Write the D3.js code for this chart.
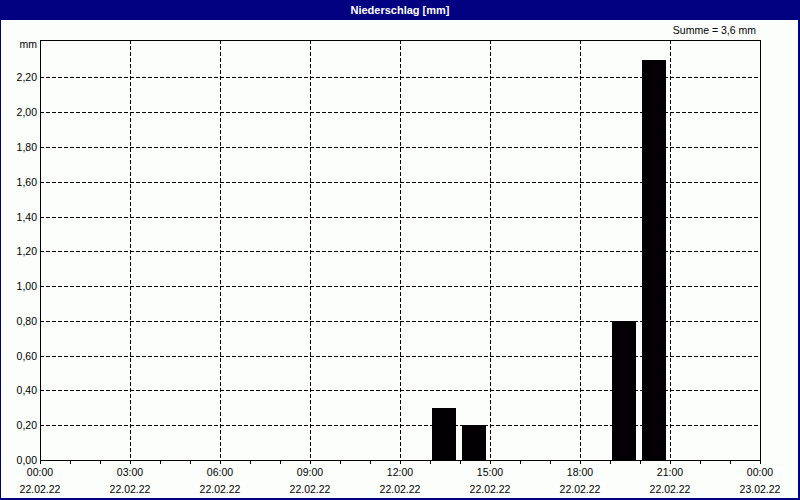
<!DOCTYPE html>
<html><head><meta charset="utf-8">
<script src="https://cdn.jsdelivr.net/npm/d3@7"></script>
<style>
html,body{margin:0;padding:0;background:#fbfefb;}
svg{display:block;}
text{font-family:"Liberation Sans",Arial,sans-serif;font-size:10.5px;fill:#000;}
</style></head>
<body>
<svg id="c" width="800" height="500"></svg>
<script>
const title = "Niederschlag [mm]";
const unitLabel = "mm";
const sumLabel = "Summe = 3,6 mm";
// hourly precipitation 22.02.22, 00:00 .. 23:00 (hour start)
const hours = d3.range(0, 24);
const values = [0,0,0,0,0,0,0,0,0,0,0,0,0,0.3,0.2,0,0,0,0,0.8,2.3,0,0,0];
const yTicks = [0,0.2,0.4,0.6,0.8,1.0,1.2,1.4,1.6,1.8,2.0,2.2];
const xMajorHours = [0,3,6,9,12,15,18,21,24];
const xTimeLabels = ["00:00","03:00","06:00","09:00","12:00","15:00","18:00","21:00","00:00"];
const xDateLabels = ["22.02.22","22.02.22","22.02.22","22.02.22","22.02.22","22.02.22","22.02.22","22.02.22","23.02.22"];

const svg = d3.select("#c");
const L = 40, R = 760, T = 40, B = 460;
const x = d3.scaleLinear().domain([0, 24]).range([L, R]);
const y = d3.scaleLinear().domain([0, d3.max(values) * 1.05]).range([B, T]);
const fmt = v => d3.format(".2f")(v).replace(".", ",");
const px = v => Math.round(v) + 0.5;

svg.append("rect").attr("x",0).attr("y",0).attr("width",800).attr("height",500).attr("fill","#fbfefb");
// title bar
svg.append("rect").attr("x",0).attr("y",0).attr("width",800).attr("height",20).attr("fill","#000080");
svg.append("text").attr("x",400).attr("y",14).attr("text-anchor","middle")
  .style("fill","#fff").style("font-weight","bold").style("font-size","11px").text(title);
// outer border
svg.append("rect").attr("x",0.5).attr("y",0.5).attr("width",798).attr("height",498)
  .attr("fill","none").attr("stroke","#000080").attr("stroke-width",1);
svg.append("line").attr("x1",799.5).attr("x2",799.5).attr("y1",0).attr("y2",500).attr("stroke","#000080");
svg.append("line").attr("x1",0).attr("x2",800).attr("y1",499.5).attr("y2",499.5).attr("stroke","#000080");

const g = svg.append("g").attr("shape-rendering","crispEdges");

// horizontal gridlines
g.selectAll(".hg").data(yTicks.filter(v => v > 0)).enter().append("line")
  .attr("x1", L).attr("x2", R).attr("y1", d => px(y(d))).attr("y2", d => px(y(d)))
  .attr("stroke","#000").attr("stroke-dasharray","4,2");
// vertical gridlines
g.selectAll(".vg").data(xMajorHours.filter(h => h > 0 && h < 24)).enter().append("line")
  .attr("x1", d => px(x(d))).attr("x2", d => px(x(d))).attr("y1", T).attr("y2", B)
  .attr("stroke","#000").attr("stroke-dasharray","4,2");

// bars
g.selectAll(".bar").data(hours.filter(h => values[h] > 0)).enter().append("rect")
  .attr("x", d => Math.round(x(d)) + 2)
  .attr("width", d => Math.round(x(d + 1)) - Math.round(x(d)) - 6)
  .attr("y", d => Math.round(y(values[d])))
  .attr("height", d => B - Math.round(y(values[d])) + 1)
  .attr("fill","#030003");

// hour ticks below axis
g.selectAll(".tk").data(d3.range(0, 25)).enter().append("line")
  .attr("x1", d => px(x(d))).attr("x2", d => px(x(d))).attr("y1", B).attr("y2", B + 4)
  .attr("stroke","#000");

// frame
g.append("rect").attr("x", L + 0.5).attr("y", T + 0.5).attr("width", R - L).attr("height", B - T)
  .attr("fill","none").attr("stroke","#000");

// y labels
svg.selectAll(".yl").data(yTicks).enter().append("text")
  .attr("x", 37).attr("y", d => Math.round(y(d)) + 4).attr("text-anchor","end").text(d => fmt(d));
svg.append("text").attr("x", 37).attr("y", 48).attr("text-anchor","end").text(unitLabel);
svg.append("text").attr("x", 756).attr("y", 34).attr("text-anchor","end").text(sumLabel);

// x labels
svg.selectAll(".xl").data(xMajorHours).enter().append("text")
  .attr("x", d => x(d)).attr("y", 476).attr("text-anchor","middle").text((d,i) => xTimeLabels[i]);
svg.selectAll(".xd").data(xMajorHours).enter().append("text")
  .attr("x", d => x(d)).attr("y", 493).attr("text-anchor","middle").text((d,i) => xDateLabels[i]);
</script>
</body></html>
